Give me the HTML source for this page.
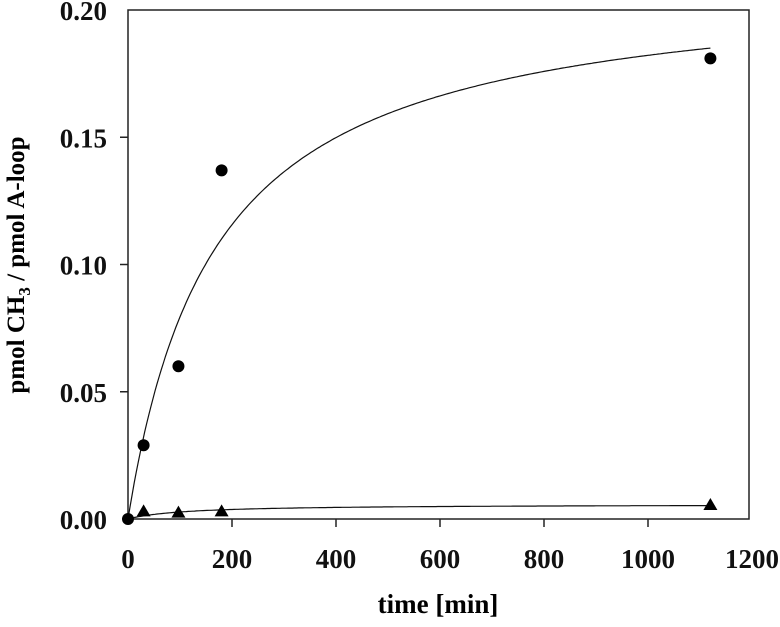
<!DOCTYPE html>
<html><head><style>body{margin:0;background:#fff}</style></head><body>
<svg id="s" width="780" height="622" xmlns="http://www.w3.org/2000/svg" font-family="Liberation Serif, serif" font-weight="bold">
<rect x="128" y="10" width="621" height="509" fill="none" stroke="#222" stroke-width="1.5"/>
<g id="ticks" stroke="#222" stroke-width="1.5"></g>
<g id="lbl" font-size="27" fill="#111"></g>
<text x="438" y="613" font-size="27" text-anchor="middle">time [min]</text>
<text transform="translate(24,265) rotate(-90)" font-size="25" text-anchor="middle">pmol CH<tspan font-size="17" dy="6">3</tspan><tspan dy="-6"> / pmol A-loop</tspan></text>
<path id="c1" fill="none" stroke="#111" stroke-width="1.2"/>
<path id="c2" fill="none" stroke="#111" stroke-width="1.2"/>
<g id="pts" fill="#000"></g>
</svg>
<script>
const X=t=>128+t*0.52, Y=v=>519-v*2545;
const ns="http://www.w3.org/2000/svg";
const tk=document.getElementById('ticks'),lb=document.getElementById('lbl'),pt=document.getElementById('pts');
function el(p,n,a,txt){const e=document.createElementNS(ns,n);for(const k in a)e.setAttribute(k,a[k]);if(txt)e.textContent=txt;p.appendChild(e);return e;}
for(let t=0;t<=1200;t+=200){const x=X(t);if(t>0&&t<1200)el(tk,'line',{x1:x,x2:x,y1:519,y2:527});el(lb,'text',{x:x,y:568,'text-anchor':'middle'},String(t));}
for(let i=0;i<=4;i++){const v=i*0.05,y=Y(v);if(i>0&&i<4)el(tk,'line',{x1:120,x2:128,y1:y,y2:y});el(lb,'text',{x:107,y:y+10,'text-anchor':'end'},v.toFixed(2));}
let d1='',d2='';
for(let t=0;t<=1120;t+=4){d1+=(t?'L':'M')+X(t).toFixed(1)+' '+Y(0.2128*t/(168+t)).toFixed(1);d2+=(t?'L':'M')+X(t).toFixed(1)+' '+Y(0.0058*t/(110+t)).toFixed(1);}
document.getElementById('c1').setAttribute('d',d1);document.getElementById('c2').setAttribute('d',d2);
[[0,0],[30,0.029],[97,0.06],[180,0.137],[1120,0.181]].forEach(p=>el(pt,'circle',{cx:X(p[0]),cy:Y(p[1]),r:6}));
[[30,0.003],[97,0.0025],[180,0.003],[1120,0.0055]].forEach(p=>{const x=X(p[0]),y=Y(p[1]);el(pt,'polygon',{points:`${x-7},${y+5} ${x+7},${y+5} ${x},${y-7}`});});
</script>
</body></html>
